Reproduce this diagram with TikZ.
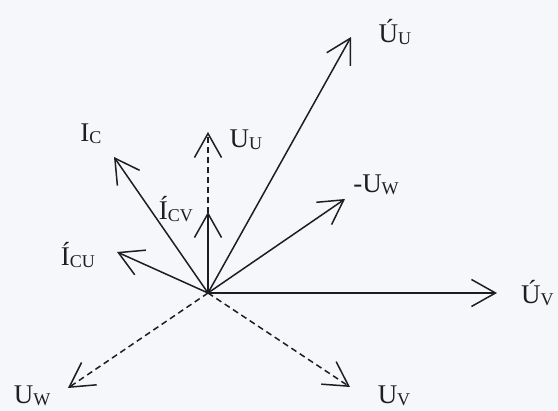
\documentclass[tikz,border=0pt]{standalone}
\usepackage{fontspec}
\setmainfont{Liberation Serif}
\usepackage{tikz}
\usetikzlibrary{arrows.meta,positioning}
\definecolor{paper}{RGB}{245,247,251}
\definecolor{ink}{RGB}{30,30,30}
\tikzset{
  phasor/.style={draw=ink, line width=1.5pt, -{Straight Barb[length=24pt,width=27pt,line width=1.5pt]}},
  dphasor/.style={phasor, dash pattern=on 6pt off 4pt},
  lbl/.style={inner sep=0pt, text=ink, font=\fontsize{27}{29}\selectfont}
}
\newcommand{\vlab}[2]{#1\raisebox{-0.2ex}{\fontsize{18}{20}\selectfont #2}}

\begin{document}
\begin{tikzpicture}[x=1pt,y=1pt]
  % page
  \fill[paper] (-208,-118) rectangle (350,293);
  \useasboundingbox (-208,-118) rectangle (350,293);
  % origin and tips
  \coordinate (O) at (0,0);
  \coordinate (tUUs) at (143,256);
  \coordinate (tUVs) at (289,0);
  \coordinate (tmUW) at (137,94);
  \coordinate (tUU) at (0,161);
  \coordinate (tICV) at (0,81);
  \coordinate (tIC) at (-94,136);
  \coordinate (tICU) at (-91,41);
  \coordinate (tUW) at (-140,-95);
  \coordinate (tUV) at (142,-94);
  % dashed phasors
  \draw[dphasor] (O) -- (tUU);
  \draw[dphasor] (O) -- (tUW);
  \draw[dphasor] (O) -- (tUV);
  % solid phasors
  \draw[phasor] (O) -- (tUUs);
  \draw[phasor] (O) -- (tUVs);
  \draw[phasor] (O) -- (tmUW);
  \draw[phasor] (O) -- (tICV);
  \draw[phasor] (O) -- (tIC);
  \draw[phasor] (O) -- (tICU);
  % labels
  \node[lbl] (lUUs) at (187,261) {\vlab{Ú}{U}};
  \node[lbl, anchor=west] (lUVs) at (313,0) {\vlab{Ú}{V}};
  \node[lbl] (lmUW) at (168,108) {\vlab{-U}{W}};
  \node[lbl] (lUU) at (38,153) {\vlab{U}{U}};
  \node[lbl] (lIC) at (-117,159) {\vlab{I}{C}};
  \node[lbl] (lICV) at (-32,84) {\vlab{Í}{CV}};
  \node[lbl] (lICU) at (-130,38) {\vlab{Í}{CU}};
  \node[lbl, anchor=south] (lUW) at (-176,-113) {\vlab{U}{W}};
  \node[lbl, anchor=south] (lUV) at (186,-113) {\vlab{U}{V}};
\end{tikzpicture}
\end{document}
